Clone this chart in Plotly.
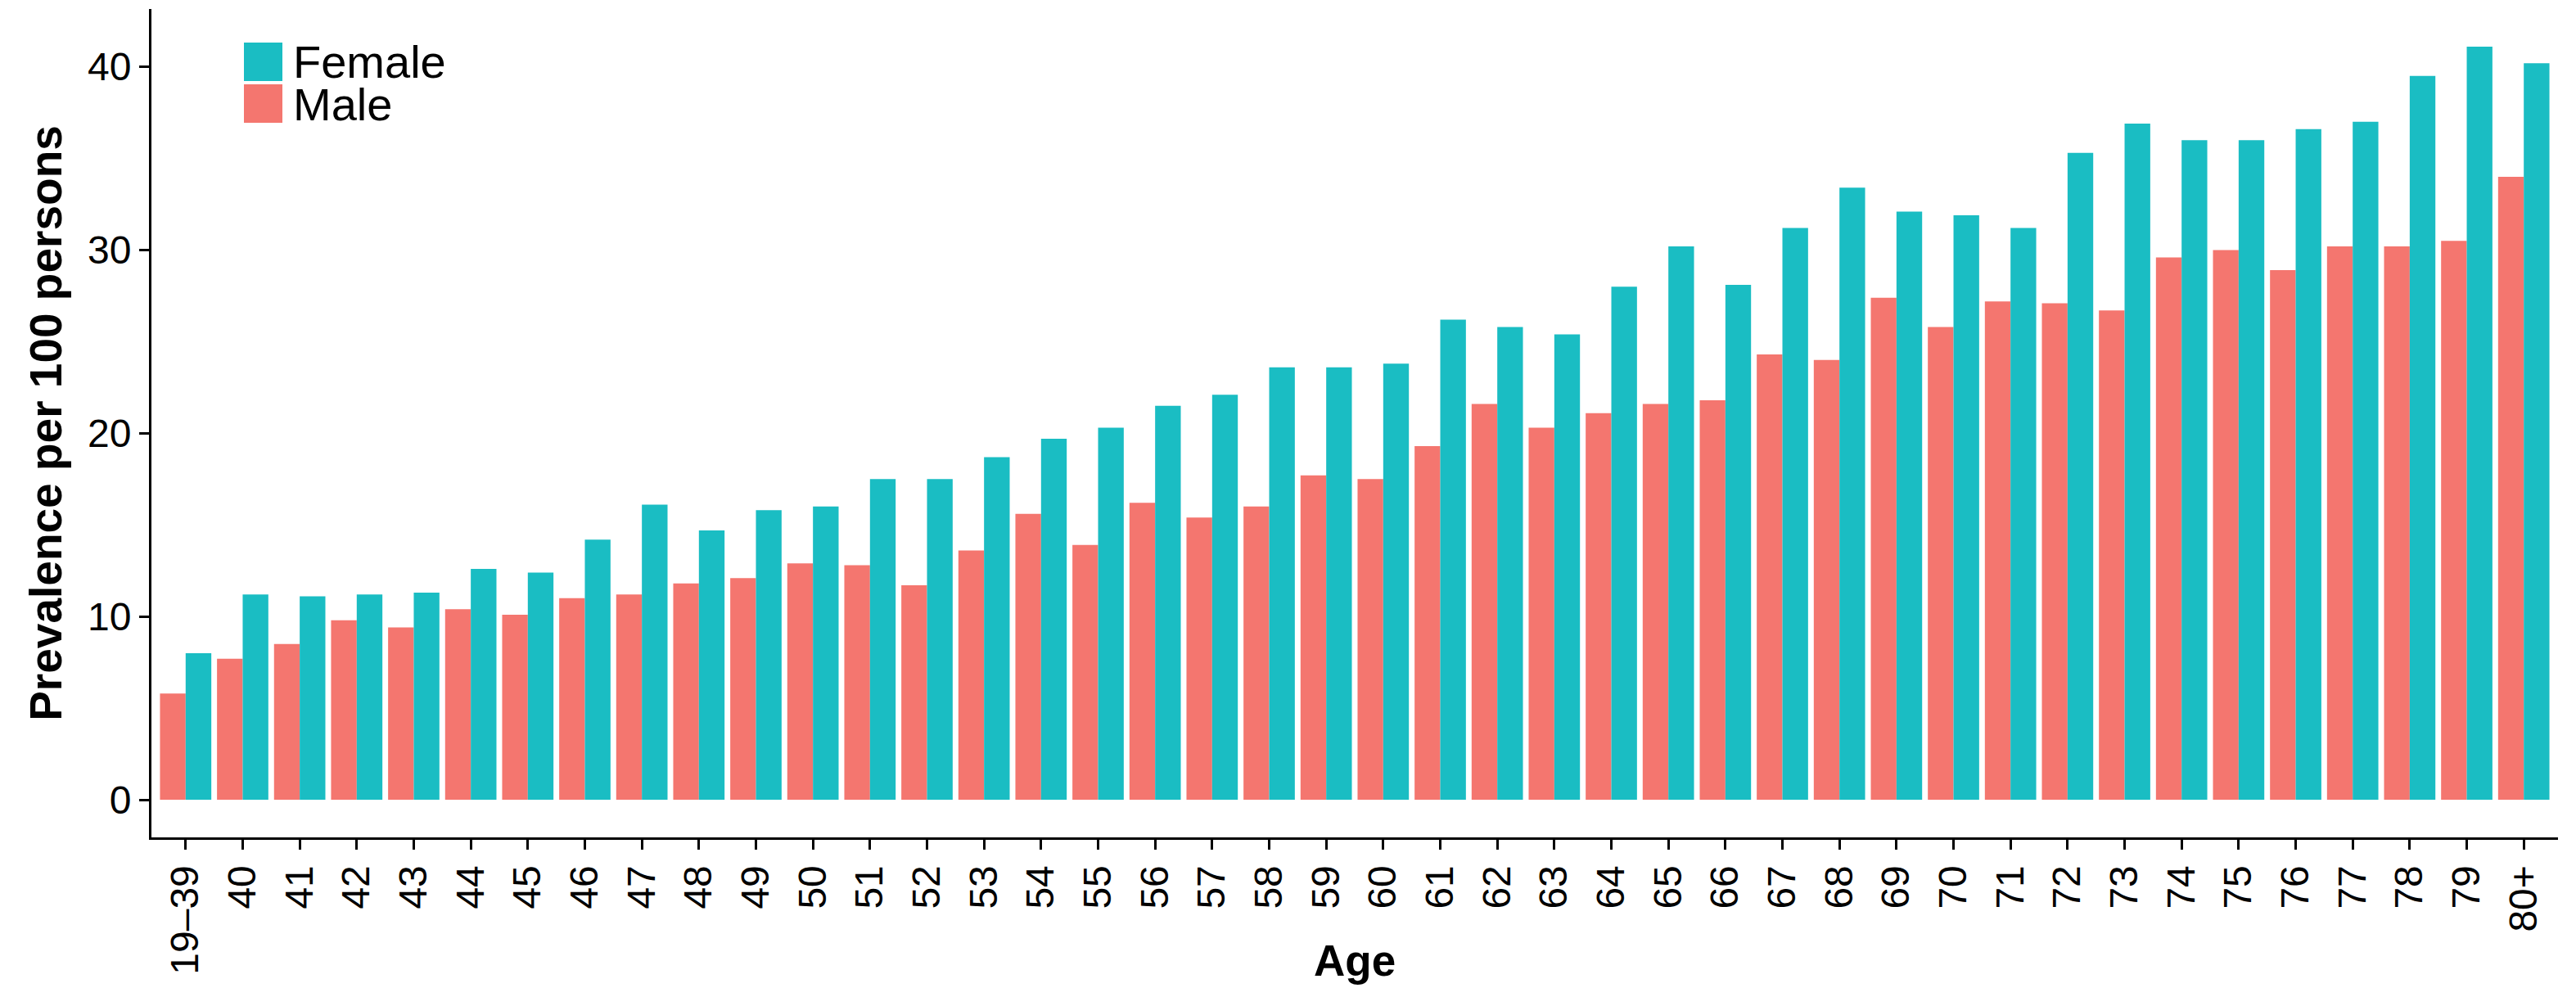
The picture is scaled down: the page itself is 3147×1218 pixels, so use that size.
import plotly.graph_objects as go

ages = ["19\u201339"] + [str(a) for a in range(40, 80)] + ["80+"]

female = [8.0, 11.2, 11.1, 11.2, 11.3, 12.6, 12.4, 14.2, 16.1, 14.7,
          15.8, 16.0, 17.5, 17.5, 18.7, 19.7, 20.3, 21.5, 22.1, 23.6,
          23.6, 23.8, 26.2, 25.8, 25.4, 28.0, 30.2, 28.1, 31.2, 33.4,
          32.1, 31.9, 31.2, 35.3, 36.9, 36.0, 36.0, 36.6, 37.0, 39.5,
          41.1, 40.2]

male = [5.8, 7.7, 8.5, 9.8, 9.4, 10.4, 10.1, 11.0, 11.2, 11.8,
        12.1, 12.9, 12.8, 11.7, 13.6, 15.6, 13.9, 16.2, 15.4, 16.0,
        17.7, 17.5, 19.3, 21.6, 20.3, 21.1, 21.6, 21.8, 24.3, 24.0,
        27.4, 25.8, 27.2, 27.1, 26.7, 29.6, 30.0, 28.9, 30.2, 30.2,
        30.5, 34.0]

y_ticks = [0, 10, 20, 30, 40]

RED = "#F4766F"
TEAL = "#1ABDC3"
FONT = "Liberation Sans, Arial, Helvetica, sans-serif"

# the page body has an 8px default margin; size the figure to fit inside it
OFF = 8
W, H = 3147 - 2 * OFF, 1218 - 2 * OFF
# plot area in window pixels: x 185..3125, y 11..1023
L, T = 185 - OFF, 11 - OFF
R, B = W - (3125 - OFF), H - (1023 - OFF)
PW, PH = W - L - R, H - T - B


def px_x(vx):
    return (vx - OFF - L) / PW


def px_y(vy):
    return (H - B - (vy - OFF)) / PH


fig = go.Figure()
fig.add_trace(go.Bar(x=ages, y=male, name="Male", marker=dict(color=RED, line=dict(width=0)),
                     showlegend=False))
fig.add_trace(go.Bar(x=ages, y=female, name="Female", marker=dict(color=TEAL, line=dict(width=0)),
                     showlegend=False))

ymax = max(max(female), max(male))
pad = ymax * 0.05

fig.update_layout(
    width=W, height=H,
    margin=dict(l=L, r=R, t=T, b=B, autoexpand=False),
    paper_bgcolor="white", plot_bgcolor="white",
    barmode="group", bargap=0.1, bargroupgap=0,
    font=dict(family=FONT, color="black"),
    showlegend=False,
)

fig.update_xaxes(
    type="category", range=[-0.6, len(ages) - 0.4],
    showline=True, linecolor="black", linewidth=3,
    ticks="outside", ticklen=12, tickwidth=3, tickcolor="black",
    tickangle=-90, tickfont=dict(size=48, family=FONT, color="black"),
    showgrid=False, zeroline=False, automargin=False,
)
fig.update_yaxes(
    range=[-pad, ymax + pad], tickvals=y_ticks,
    showline=True, linecolor="black", linewidth=3,
    ticks="outside", ticklen=12, tickwidth=3, tickcolor="black",
    tickfont=dict(size=48, family=FONT, color="black"),
    showgrid=False, zeroline=False, automargin=False,
    title=dict(text="<b>Prevalence per 100 persons</b>",
               font=dict(size=55, family=FONT, color="black"), standoff=14),
)

# x-axis title
fig.add_annotation(text="<b>Age</b>", xref="paper", yref="paper",
                   x=0.5, y=px_y(1173), xanchor="center", yanchor="middle",
                   showarrow=False, font=dict(size=53, family=FONT, color="black"))

# legend (keys + labels)
legend_items = [("Female", TEAL, 52), ("Male", RED, 103)]
for label, col, top in legend_items:
    fig.add_shape(type="rect", xref="paper", yref="paper",
                  x0=px_x(298), x1=px_x(345), y0=px_y(top + 47), y1=px_y(top),
                  fillcolor=col, line=dict(width=0))
    fig.add_annotation(text=label, xref="paper", yref="paper",
                       x=px_x(356), y=px_y(top + 24), xanchor="left", yanchor="middle",
                       showarrow=False, font=dict(size=56, family=FONT, color="black"))

fig.write_html("out.html")
